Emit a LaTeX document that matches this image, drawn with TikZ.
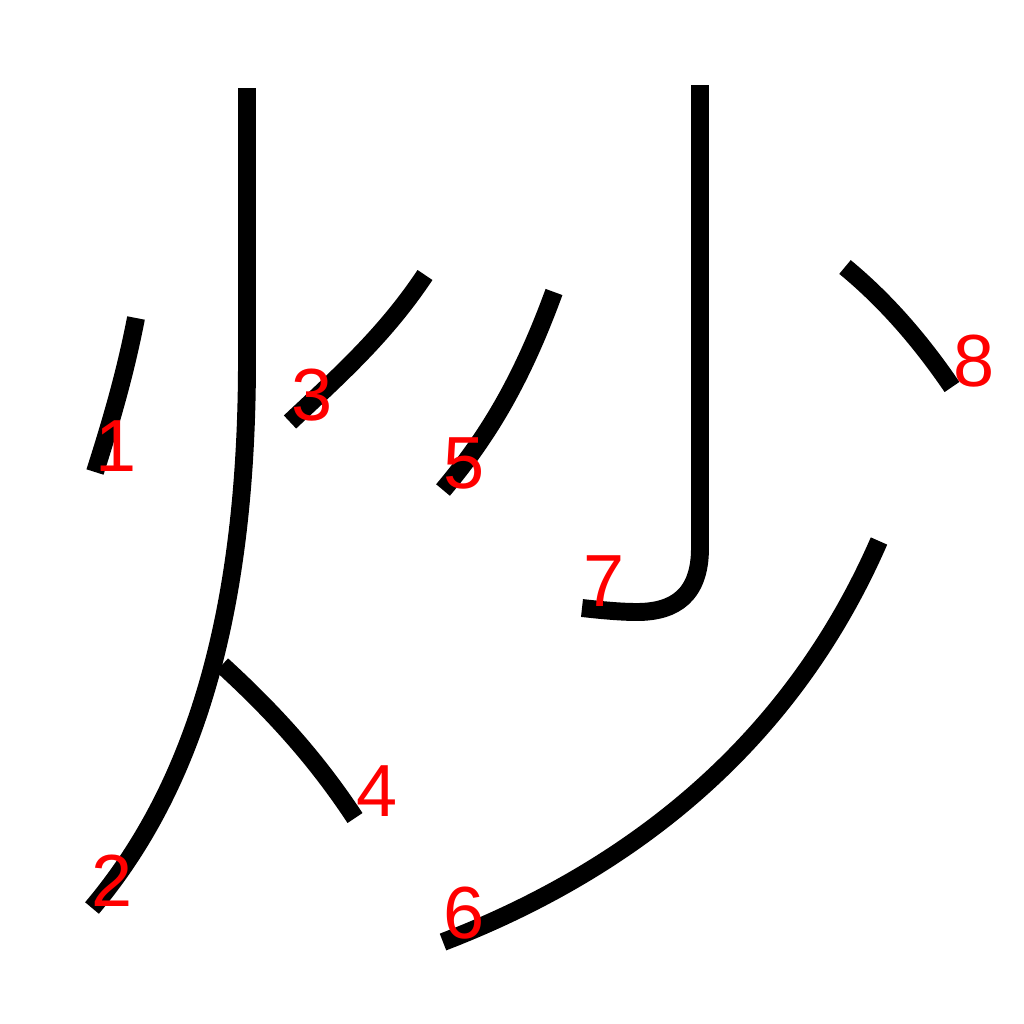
\documentclass[tikz,border=0pt]{standalone}
\usepackage{fontspec}
\setmainfont{Liberation Sans}
\usepackage{tikz}

\tikzset{
  stroke/.style={line width=5.1pt, line cap=butt, line join=round},
  num/.style={text=red, font=\fontsize{21}{24}\selectfont, inner sep=0pt}
}

\begin{document}
\begin{tikzpicture}[x=0.01cm,y=-0.01cm]
\useasboundingbox (0,0) rectangle (1024,1024);

\draw[stroke] (136,318) .. controls (125,375) and (110,425) .. (95,472);
\draw[stroke] (247,88) -- (247,360) .. controls (247,600) and (200,780) .. (92,908);
\draw[stroke] (425,275) .. controls (385,335) and (340,375) .. (290,422);
\draw[stroke] (222,665) .. controls (280,718) and (320,765) .. (355,818);
\draw[stroke] (554,292) .. controls (520,385) and (485,440) .. (443,490);
\draw[stroke] (879,541) .. controls (790,745) and (630,870) .. (443,942);
\draw[stroke] (700,85) -- (700,548) .. controls (700,595) and (675,612) .. (637,612)
  .. controls (620,612) and (600,610) .. (582,608);
\draw[stroke] (845,267) .. controls (885,300) and (920,340) .. (952,387);

\node[num] (n1) at (116,446) {1};
\node[num] (n2) at (112,881) {2};
\node[num] (n3) at (312,395) {3};
\node[num] (n4) at (377,791) {4};
\node[num] (n5) at (464,463) {5};
\node[num] (n6) at (464,913) {6};
\node[num] (n7) at (604,581) {7};
\node[num] (n8) at (974,361) {8};
\end{tikzpicture}
\end{document}
